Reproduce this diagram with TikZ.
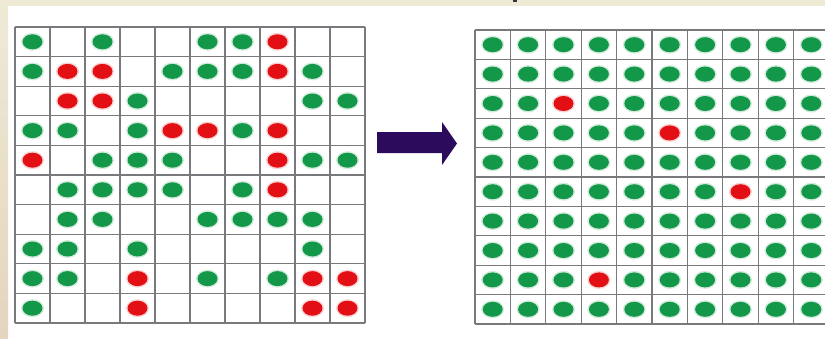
\documentclass[tikz,border=0pt]{standalone}
\usetikzlibrary{calc}
\definecolor{beige}{RGB}{238,234,214}
\definecolor{beigeb}{RGB}{228,212,192}
\definecolor{gridc}{RGB}{120,120,125}
\definecolor{dotg}{RGB}{18,152,72}
\definecolor{dotr}{RGB}{226,16,20}
\definecolor{arrowc}{RGB}{44,10,92}
\tikzset{
  gridline/.style={draw=gridc, line width=1.1pt},
  gdot/.style={fill=dotg},
  rdot/.style={fill=dotr},
  ghalo/.style={fill=dotg!18},
  rhalo/.style={fill=dotr!18},
}
\newcommand{\gcell}[4]{% x0, y0, col, row  -> green
  \fill[ghalo] ({#1+(#3+0.5)*\cw},{#2+(#4+0.5)*\rh}) ellipse [x radius=11.5, y radius=9];
  \fill[gdot] ({#1+(#3+0.5)*\cw},{#2+(#4+0.5)*\rh}) ellipse [x radius=10, y radius=7.5];}
\newcommand{\rcell}[4]{%
  \fill[rhalo] ({#1+(#3+0.5)*\cw},{#2+(#4+0.5)*\rh}) ellipse [x radius=11.5, y radius=9];
  \fill[rdot] ({#1+(#3+0.5)*\cw},{#2+(#4+0.5)*\rh}) ellipse [x radius=10, y radius=7.5];}
\begin{document}
\begin{tikzpicture}[x=1pt,y=-1pt]
\useasboundingbox (0,0) rectangle (825,338);
% background
\fill[white] (0,0) rectangle (825,338);
\fill[beige] (0,0) rectangle (825,6);
\shade[top color=beige, bottom color=beigeb] (0,0) rectangle (8,338);
\fill[black!80] (513,0) rectangle (517,1.6);

% ---------- left grid ----------
\def\cw{35}\def\rh{29.6}
\foreach \r/\gs in {0/{0,2,5,6},1/{0,4,5,6,8},2/{3,8,9},3/{0,1,3,6},4/{2,3,4,8,9},
                    5/{1,2,3,4,6},6/{1,2,5,6,7,8},7/{0,1,3,8},8/{0,1,5,7},9/{0}}
  {\foreach \c in \gs {\gcell{15}{27}{\c}{\r}}}
\foreach \r/\rs in {0/{7},1/{1,2,7},2/{1,2},3/{4,5,7},4/{0,7},5/{7},8/{3,8,9},9/{3,8,9}}
  {\foreach \c in \rs {\rcell{15}{27}{\c}{\r}}}
\foreach \i in {0,...,10} {
  \draw[gridline] ({15+\i*\cw},27) -- ({15+\i*\cw},{27+10*\rh});
  \draw[gridline] (15,{27+\i*\rh}) -- ({15+10*\cw},{27+\i*\rh});
}

% ---------- right grid ----------
\def\cw{35.4}\def\rh{29.4}
\foreach \r in {0,...,9}{
  \foreach \c in {0,...,9}{
    \pgfmathtruncatemacro{\k}{\r*10+\c}
    \ifnum\k=22 \rcell{475}{30}{\c}{\r}\else
    \ifnum\k=35 \rcell{475}{30}{\c}{\r}\else
    \ifnum\k=57 \rcell{475}{30}{\c}{\r}\else
    \ifnum\k=83 \rcell{475}{30}{\c}{\r}\else
      \gcell{475}{30}{\c}{\r}\fi\fi\fi\fi
  }
}
\foreach \i in {0,...,10} {
  \draw[gridline] ({475+\i*\cw},30) -- ({475+\i*\cw},{30+10*\rh});
  \draw[gridline] (475,{30+\i*\rh}) -- ({475+10*\cw},{30+\i*\rh});
}

% ---------- arrow ----------
\fill[arrowc] (377,132) -- (442,132) -- (442,122) -- (457,143.5) -- (442,165)
  -- (442,153) -- (377,153) -- cycle;
\end{tikzpicture}
\end{document}
